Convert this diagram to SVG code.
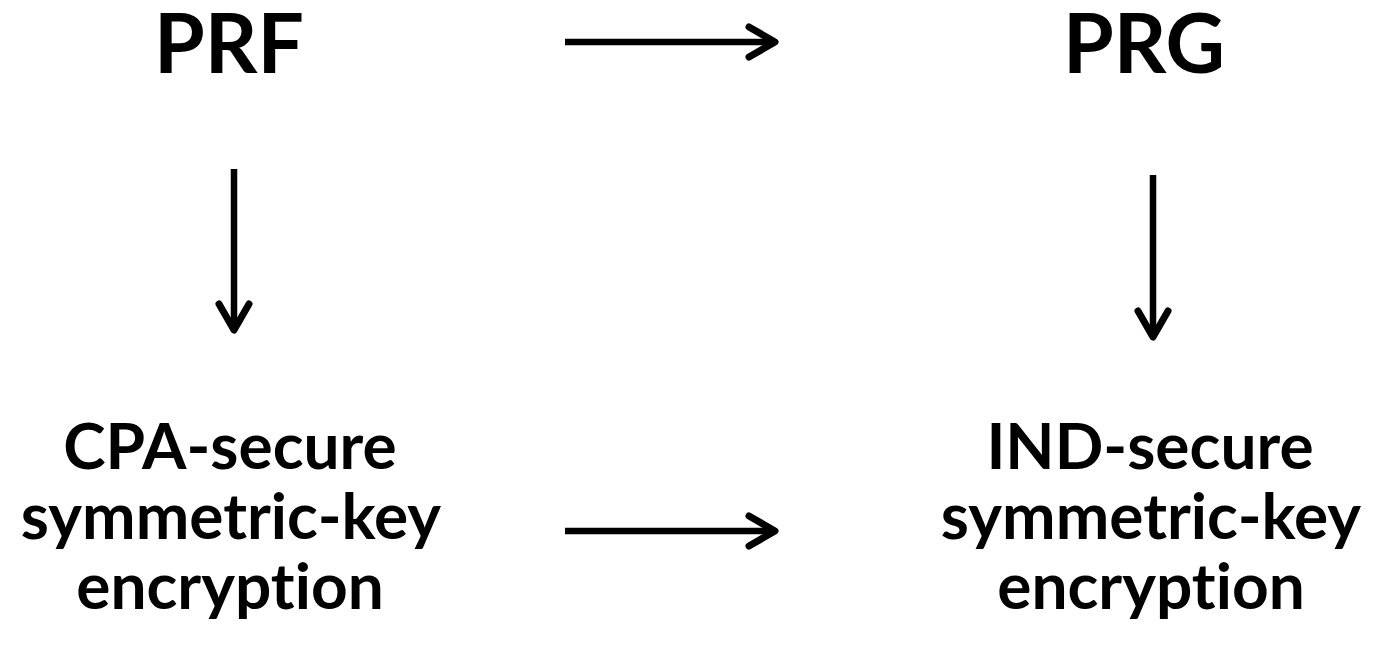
<svg xmlns="http://www.w3.org/2000/svg" width="1376" height="649" viewBox="0 0 1376 649">
  <style>
    .lbl { font-family: Lato, "Open Sans", "Liberation Sans", sans-serif; font-weight: bold; fill: #000; text-anchor: middle; font-variant-ligatures: none; }
    .big { font-size: 82px; }
    .sm { font-size: 64px; }
    .edge { stroke: #000; stroke-width: 6.5; fill: none; marker-end: url(#head); }
  </style>
  <defs>
    <!-- open chevron arrowhead, drawn in user units so all arrows share one size -->
    <marker id="head" markerUnits="userSpaceOnUse" viewBox="-32 -20 36 40" markerWidth="36" markerHeight="40" refX="0" refY="0" orient="auto" overflow="visible">
      <path d="M-26,-15 L0,0 L-26,15" fill="none" stroke="#000" stroke-width="7" stroke-linecap="round" stroke-linejoin="round"/>
    </marker>
  </defs>
  <rect width="1376" height="649" fill="#fff"/>

  <g id="prf">
    <text class="lbl big" x="229" y="73">PRF</text>
  </g>
  <g id="prg">
    <text class="lbl big" x="1144" y="73">PRG</text>
  </g>
  <g id="cpa">
    <text class="lbl sm" x="230" y="469">CPA-secure</text>
    <text class="lbl sm" x="231" y="539">symmetric-key</text>
    <text class="lbl sm" x="230" y="609">encryption</text>
  </g>
  <g id="ind">
    <text class="lbl sm" x="1150" y="469">IND-secure</text>
    <text class="lbl sm" x="1151" y="539">symmetric-key</text>
    <text class="lbl sm" x="1151" y="609">encryption</text>
  </g>

  <g id="connectors">
    <line class="edge" x1="565" y1="42" x2="775" y2="42"/>
    <line class="edge" x1="565" y1="531" x2="775" y2="531"/>
    <line class="edge" x1="234" y1="169" x2="234" y2="330"/>
    <line class="edge" x1="1153" y1="175" x2="1153" y2="337"/>
  </g>
</svg>
